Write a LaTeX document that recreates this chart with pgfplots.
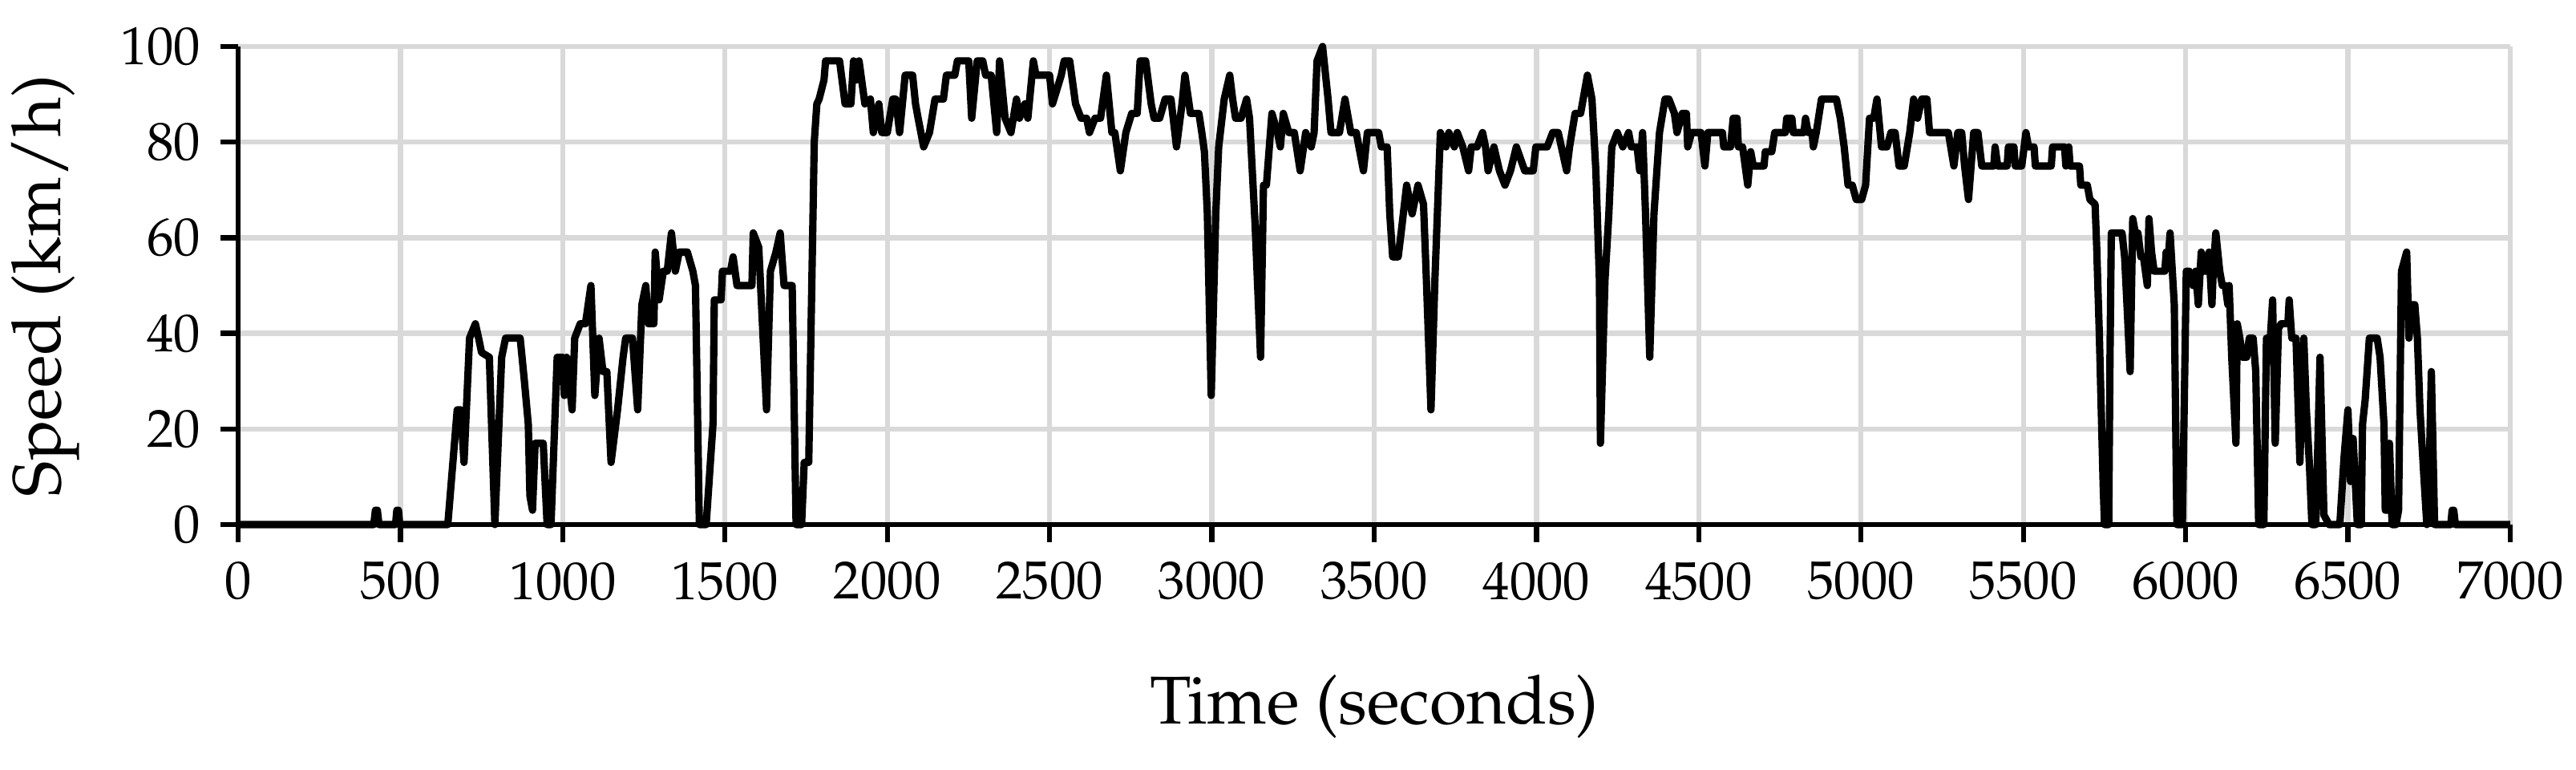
\documentclass[border=0pt]{standalone}
\usepackage[T1]{fontenc}
\usepackage{mathpazo}
\usepackage{pgfplots}
\usepackage{pgfplotstable}
\pgfplotsset{compat=1.18}
\definecolor{gridgray}{HTML}{D9D9D9}

% speed trace (s, km/h)
\pgfplotstableread{
t v
0 0
418 0
423 3
429 3
434 0
485 0
489 3
494 3
498 0
646 0
675 24
686 24
696 13
713 39
731 42
741 39
750 36
774 35
791 0
812 35
824 39
869 39
882 30
894 21
899 6
907 3
915 17
940 17
952 0
964 0
977 24
983 35
1000 35
1005 27
1012 35
1020 30
1029 24
1037 39
1054 42
1070 42
1087 50
1099 27
1112 39
1124 32
1136 32
1149 13
1169 24
1186 35
1194 39
1215 39
1231 24
1244 46
1256 50
1264 42
1281 42
1285 57
1297 47
1310 53
1322 53
1335 61
1347 53
1359 57
1384 57
1401 53
1409 50
1421 0
1442 0
1463 21
1467 47
1488 47
1492 53
1517 53
1525 56
1537 50
1583 50
1587 61
1604 58
1628 24
1640 53
1657 57
1670 61
1682 50
1707 50
1719 0
1736 0
1744 13
1758 13
1775 80
1783 88
1790 89
1805 93
1810 97
1853 97
1870 88
1888 88
1896 97
1905 93
1913 97
1931 88
1948 89
1957 82
1974 88
1983 82
2000 82
2017 89
2026 89
2038 82
2055 94
2078 94
2087 88
2095 85
2112 79
2130 82
2147 89
2173 89
2182 94
2208 94
2216 97
2251 97
2260 85
2277 97
2294 97
2303 94
2320 94
2337 82
2346 97
2363 85
2381 82
2398 89
2407 85
2424 88
2433 85
2450 97
2458 94
2500 94
2509 88
2536 94
2545 97
2562 97
2580 88
2597 85
2614 85
2623 82
2640 85
2657 85
2675 94
2692 82
2701 82
2718 74
2735 82
2753 86
2770 86
2779 97
2796 97
2813 88
2822 85
2839 85
2856 89
2874 89
2891 79
2908 88
2917 94
2934 86
2960 86
2969 82
2977 78
2986 65
2998 27
3012 65
3021 79
3038 89
3055 94
3064 89
3073 85
3090 85
3107 89
3116 85
3133 63
3150 35
3159 71
3168 71
3185 86
3202 82
3211 79
3220 86
3237 82
3254 82
3272 74
3289 82
3306 79
3315 82
3324 97
3341 100
3358 89
3367 82
3393 82
3410 89
3428 82
3445 82
3453 79
3467 74
3479 82
3514 82
3522 79
3540 79
3548 65
3557 56
3574 56
3583 61
3600 71
3617 65
3635 71
3652 67
3661 51
3675 24
3687 51
3704 82
3721 79
3730 82
3747 79
3756 82
3773 79
3791 74
3799 79
3817 79
3834 82
3843 79
3851 74
3869 79
3886 74
3903 71
3920 74
3938 79
3964 74
3990 74
3998 79
4033 79
4050 82
4067 82
4093 74
4102 79
4119 86
4136 86
4157 94
4171 89
4183 74
4194 51
4197 17
4211 51
4223 65
4232 79
4249 82
4266 79
4284 82
4292 79
4310 79
4318 74
4327 82
4336 65
4349 35
4362 65
4379 82
4396 89
4408 89
4425 86
4433 82
4449 86
4462 86
4466 79
4478 82
4507 82
4519 75
4528 82
4573 82
4577 79
4598 79
4606 85
4618 85
4622 79
4635 79
4651 71
4660 78
4668 75
4701 75
4705 78
4725 78
4734 82
4767 82
4771 85
4787 85
4791 82
4824 82
4829 85
4837 82
4849 82
4853 79
4862 82
4878 89
4924 89
4936 85
4948 79
4960 71
4973 71
4985 68
5002 68
5014 71
5026 85
5039 85
5049 89
5063 79
5080 79
5092 82
5105 82
5117 75
5133 75
5150 82
5162 89
5174 85
5187 89
5203 89
5211 82
5269 82
5286 75
5298 82
5310 82
5319 75
5331 68
5347 82
5360 82
5372 75
5409 75
5413 79
5421 75
5450 75
5454 79
5471 79
5475 75
5495 75
5508 82
5516 79
5533 79
5537 75
5586 75
5590 79
5627 79
5631 75
5640 79
5644 75
5673 75
5677 71
5697 71
5705 68
5721 67
5726 58
5734 40
5746 8
5750 0
5763 0
5767 35
5771 61
5804 61
5812 56
5820 45
5829 32
5837 64
5845 61
5853 61
5862 56
5870 56
5882 50
5887 64
5895 57
5903 53
5936 53
5940 57
5948 57
5952 61
5965 46
5973 0
5990 0
6002 53
6011 53
6023 50
6031 53
6039 46
6048 57
6056 53
6068 53
6072 57
6081 46
6085 53
6093 61
6105 53
6113 50
6122 50
6130 46
6134 50
6142 35
6155 17
6159 42
6167 39
6175 35
6188 35
6196 39
6208 39
6216 32
6225 0
6241 0
6249 39
6261 39
6268 47
6276 17
6286 41
6294 42
6315 42
6319 47
6327 39
6340 39
6352 13
6364 39
6372 24
6381 13
6389 0
6401 0
6414 35
6426 2
6442 0
6475 0
6488 14
6500 24
6508 9
6516 18
6529 0
6541 0
6545 21
6553 26
6566 39
6590 39
6599 35
6611 21
6615 3
6623 3
6628 17
6636 0
6648 0
6656 3
6665 53
6681 57
6688 39
6697 46
6706 46
6714 39
6722 24
6734 10
6743 0
6751 13
6757 32
6767 0
6817 0
6821 3
6826 3
6831 0
7000 0
}\speed

\begin{document}
\begin{tikzpicture}
\useasboundingbox (-1.485cm,-1.53cm) rectangle (14.58cm,3.27cm);
\begin{axis}[
  at={(0,0)}, anchor=south west,
  scale only axis,
  width=14.17cm, height=2.98cm,
  xmin=0, xmax=7000, ymin=0, ymax=100,
  xtick={0,500,...,7000},
  ytick={0,20,...,100},
  axis x line=bottom, axis y line=left,
  axis line style={-, line width=0.9pt},
  tick align=outside,
  major tick length=3.1pt,
  tick style={black, line width=0.9pt},
  grid=major,
  major grid style={gridgray, line width=0.9pt},
  tick label style={font=\fontsize{9.5}{11}\selectfont},
  label style={font=\fontsize{12}{14}\selectfont},
  xticklabel style={/pgf/number format/1000 sep={}},
  scaled x ticks=false,
  xlabel={Time (seconds)},
  ylabel={Speed (km/h)},
  xlabel style={at={(axis description cs:0.5,-0.38)}, anchor=center},
  ylabel style={at={(axis description cs:-0.0847,0.5)}, anchor=center},
  clip=false,
]
\addplot[black, line width=1.3pt, line join=round, mark=none] table[x=t, y=v] {\speed};
\end{axis}
\end{tikzpicture}
\end{document}
